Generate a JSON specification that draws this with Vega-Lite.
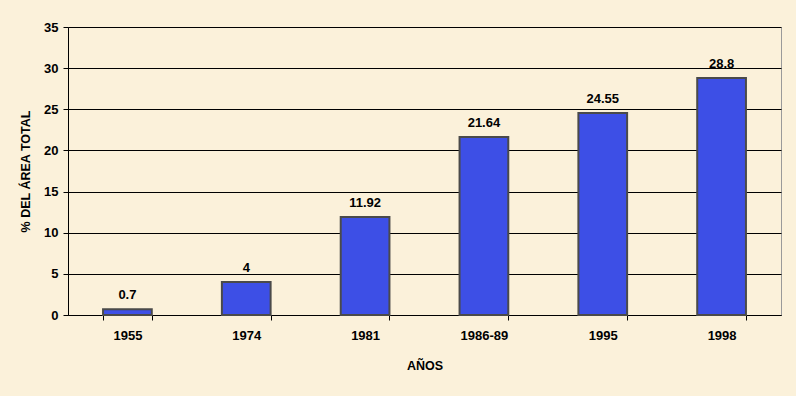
{
  "$schema": "https://vega.github.io/schema/vega-lite/v6.json",
  "autosize": "none",
  "padding": {"left": 68, "top": 27, "right": 15, "bottom": 81},
  "width": 713,
  "height": 288,
  "background": "#fbf1da",
  "config": {
    "view": {"stroke": "#9a9a9a", "strokeWidth": 1},
    "font": "Liberation Sans",
    "axis": {
      "labelFont": "Liberation Sans",
      "labelFontWeight": "bold",
      "labelFontSize": 13,
      "labelColor": "#000",
      "titleFont": "Liberation Sans",
      "titleFontWeight": "bold",
      "titleFontSize": 12.5,
      "titleColor": "#000",
      "domainColor": "#000",
      "tickColor": "#000",
      "gridColor": "#000",
      "gridOpacity": 1
    }
  },
  "data": {
    "values": [
      {"anio": "1955", "pct": 0.7},
      {"anio": "1974", "pct": 4},
      {"anio": "1981", "pct": 11.92},
      {"anio": "1986-89", "pct": 21.64},
      {"anio": "1995", "pct": 24.55},
      {"anio": "1998", "pct": 28.8}
    ]
  },
  "encoding": {
    "x": {
      "field": "anio",
      "type": "nominal",
      "sort": null,
      "title": "AÑOS",
      "scale": {"paddingInner": 0.59, "paddingOuter": 0.295},
      "axis": {
        "labelAngle": 0,
        "tickBand": "extent",
        "tickSize": 5,
        "labelPadding": 9,
        "titlePadding": 17,
        "domainWidth": 1
      }
    },
    "y": {
      "field": "pct",
      "type": "quantitative",
      "title": "% DEL ÁREA TOTAL",
      "scale": {"domain": [0, 35]},
      "axis": {
        "values": [0, 5, 10, 15, 20, 25, 30, 35],
        "tickSize": 5,
        "labelPadding": 5,
        "titlePadding": 11,
        "grid": true
      }
    }
  },
  "layer": [
    {
      "mark": {"type": "bar", "fill": "#3d4fe6", "stroke": "#4a4a4a", "strokeWidth": 2}
    },
    {
      "mark": {"type": "text", "baseline": "bottom", "dy": -7, "fontWeight": "bold", "fontSize": 13, "font": "Liberation Sans", "color": "#000"},
      "encoding": {"text": {"field": "pct", "type": "quantitative"}}
    }
  ]
}
